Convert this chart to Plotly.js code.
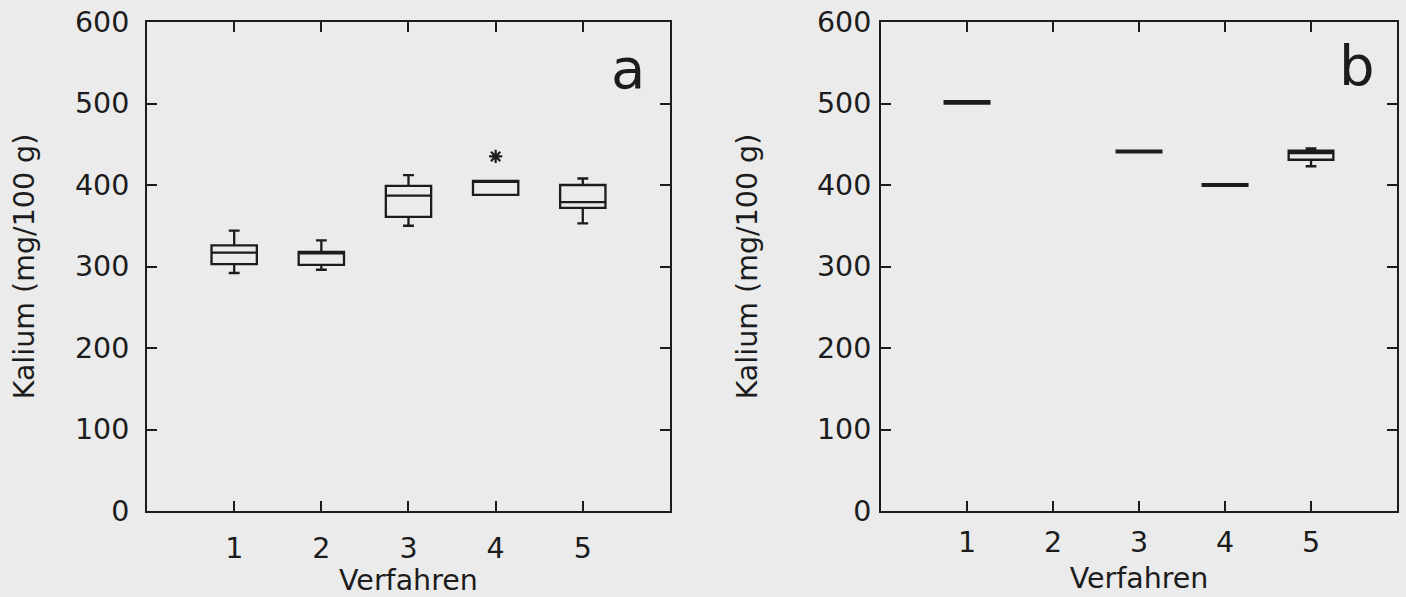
<!DOCTYPE html>
<html><head><meta charset="utf-8">
<script src="https://cdn.plot.ly/plotly-3.0.1.min.js"></script>
<style>html,body{margin:0;padding:0;background:#ebebeb}</style>
</head><body><div id="chart" style="width:1406px;height:597px"></div>
<script>
// Panel a
const verfahrenA = [1, 2, 3, 4, 5];
const q1A = [303, 302, 361, 388, 372];
const medianA = [317, 316, 387, 404, 379];
const q3A = [326, 318, 399, 405, 400];
const lowerA = [292, 296, 350, 388, 353];
const upperA = [344, 332, 412, 405, 408];
const outlierXA = [4];
const outlierYA = [435];

// Panel b (Verfahren 2 has no data)
const verfahrenB = [1, 3, 4, 5];
const q1B = [500, 440, 399, 431];
const medianB = [501, 441, 400, 439];
const q3B = [503, 442, 401, 442];
const lowerB = [500, 440, 399, 423];
const upperB = [503, 442, 401, 445];

const xTicks = [1, 2, 3, 4, 5];
const yTicks = [0, 100, 200, 300, 400, 500, 600];
const yTitle = 'Kalium (mg/100 g)';
const xTitle = 'Verfahren';
const panelLabels = ['a', 'b'];

const ink = '#1c1c1c';
const bg = '#ebebeb';
const fontFam = 'DejaVu Sans, Liberation Sans, Arial, sans-serif';
const fs = 28.5;

function boxTrace(x, q1, med, q3, lo, hi, xa, ya) {
  return {
    type: 'box', x: x, q1: q1, median: med, q3: q3,
    lowerfence: lo, upperfence: hi,
    xaxis: xa, yaxis: ya,
    width: 0.52, whiskerwidth: 0.24,
    boxpoints: false,
    fillcolor: 'rgba(0,0,0,0)',
    line: {color: ink, width: 2.3},
    showlegend: false, hoverinfo: 'skip'
  };
}

const traces = [
  boxTrace(verfahrenA, q1A, medianA, q3A, lowerA, upperA, 'x', 'y'),
  {
    type: 'scatter', mode: 'markers', x: outlierXA, y: outlierYA,
    xaxis: 'x', yaxis: 'y',
    marker: {symbol: 'asterisk-open', size: 11, color: ink, line: {color: ink, width: 2.2}},
    showlegend: false, hoverinfo: 'skip'
  },
  boxTrace(verfahrenB, q1B, medianB, q3B, lowerB, upperB, 'x2', 'y2')
];

function xAxis(domain, standoff, titleStandoff) {
  return {
    domain: domain, range: [0, 6], tickmode: 'array', tickvals: xTicks,
    ticks: 'inside', ticklen: 10, tickwidth: 2, tickcolor: ink,
    showline: true, linewidth: 2, linecolor: ink, mirror: 'ticks',
    showgrid: false, zeroline: false,
    tickfont: {family: fontFam, size: fs, color: ink},
    ticklabelstandoff: standoff,
    title: {text: xTitle, font: {family: fontFam, size: fs, color: ink}, standoff: titleStandoff}
  };
}
function yAxis(anchor, standoff, titleStandoff) {
  return {
    domain: [0, 1], range: [0, 600], tickmode: 'array', tickvals: yTicks,
    anchor: anchor,
    ticks: 'inside', ticklen: 10, tickwidth: 2, tickcolor: ink,
    showline: true, linewidth: 2, linecolor: ink, mirror: 'ticks',
    showgrid: false, zeroline: false,
    tickfont: {family: fontFam, size: fs, color: ink},
    ticklabelstandoff: standoff,
    title: {text: yTitle, font: {family: fontFam, size: fs, color: ink}, standoff: titleStandoff}
  };
}

const layout = {
  width: 1406, height: 597,
  margin: {l: 60, r: 9, t: 22, b: 86},
  paper_bgcolor: bg, plot_bgcolor: bg,
  xaxis: Object.assign(xAxis([0.0651, 0.4562], 11, 17), {anchor: 'y'}),
  yaxis: yAxis('x', 10, 32),
  xaxis2: Object.assign(xAxis([0.6141, 1.0], 5, 10), {anchor: 'y2'}),
  yaxis2: yAxis('x2', 2, 51),
  annotations: [
    {xref: 'x', yref: 'y', x: 5.52, y: 543, text: panelLabels[0], showarrow: false,
     font: {family: fontFam, size: 56, color: ink}},
    {xref: 'x2', yref: 'y2', x: 5.53, y: 547, text: panelLabels[1], showarrow: false,
     font: {family: fontFam, size: 56, color: ink}}
  ]
};

Plotly.newPlot('chart', traces, layout, {staticPlot: true, displayModeBar: false});
</script>
</body></html>
